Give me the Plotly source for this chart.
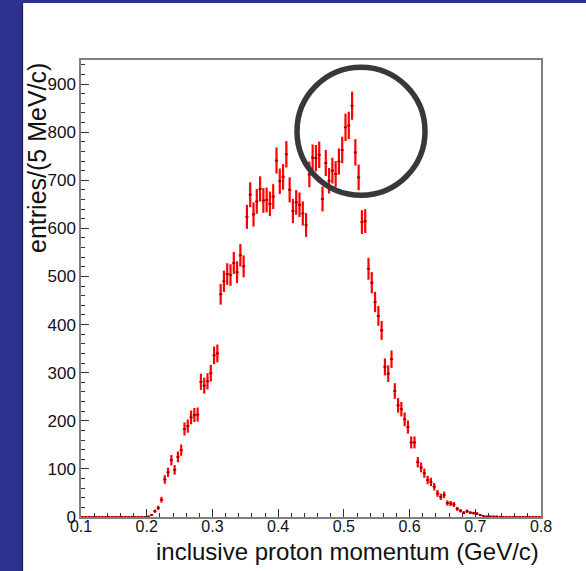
import numpy as np
import plotly.graph_objects as go

# --- data: 5 MeV/c bins from 0.1 to 0.8 GeV/c ---
bin_lo = 0.1
bin_width = 0.005
counts = [
    0, 0, 0, 0, 0, 0, 0, 0, 0, 0,
    0, 0, 0, 0, 0, 0, 0, 0, 0, 0,
    1, 4, 12, 19, 36, 78, 93, 118, 98, 125,
    139, 183, 189, 207, 212, 213, 281, 273, 282, 299,
    336, 340, 463, 490, 505, 503, 528, 509, 544, 521,
    624, 670, 629, 656, 682, 658, 659, 651, 666, 741,
    698, 707, 754, 680, 636, 654, 649, 631, 607, 712,
    747, 746, 753, 661, 736, 699, 720, 713, 739, 763,
    810, 814, 855, 758, 706, 613, 615, 516, 487, 447,
    418, 388, 312, 298, 328, 262, 232, 224, 203, 187,
    155, 155, 114, 103, 91, 77, 73, 63, 49, 42,
    46, 29, 28, 26, 17, 13, 9, 12, 9, 8,
    7, 4, 2, 1, 1, 1, 1, 0, 0, 0,
    0, 0, 0, 0, 0, 0, 0, 0, 0, 0,
]
centers = [bin_lo + bin_width * (i + 0.5) for i in range(len(counts))]
errors = np.sqrt(np.array(counts, dtype=float))

x_ticks = [0.1, 0.2, 0.3, 0.4, 0.5, 0.6, 0.7, 0.8]
x_tick_text = ["0.1", "0.2", "0.3", "0.4", "0.5", "0.6", "0.7", "0.8"]
y_ticks = [0, 100, 200, 300, 400, 500, 600, 700, 800, 900]

x_title = "inclusive proton momentum (GeV/c)"
y_title = "entries/(5 MeV/c)"

# highlight circle (data coords)
circle_cx, circle_cy = 0.5261, 802
circle_rx, circle_ry = 0.0974, 133

W, H = 586, 571
ML, MR, MT, MB = 81, 45, 60, 54
PW, PH = W - ML - MR, H - MT - MB

def px_x(p):
    return (p - ML) / PW

def px_y(p):
    return (H - MB - p) / PH

FONT = "Liberation Sans, Arial"

fig = go.Figure()
fig.add_trace(go.Scatter(
    x=centers, y=counts, mode="markers",
    marker=dict(size=2, color="#880000", symbol="square"),
    error_y=dict(type="data", array=errors, visible=True, color="#ff0000",
                 thickness=2.2, width=0),
    error_x=dict(type="constant", value=bin_width / 2, visible=True,
                 color="#ff0000", thickness=1.6, width=0),
    showlegend=False, hoverinfo="skip",
))

axis_common = dict(
    showgrid=False, zeroline=False, showline=True, mirror=True,
    linecolor="#808080", linewidth=1.5,
    ticks="inside", tickcolor="#333333", tickwidth=1.2,
)
fig.update_xaxes(
    range=[0.1, 0.8], tickvals=x_ticks, ticktext=x_tick_text, ticklen=8,
    tickfont=dict(family=FONT, size=16, color="#111111"),
    ticklabelstandoff=-6,
    minor=dict(ticks="inside", dtick=0.02, tick0=0.1, ticklen=4,
               tickcolor="#333333", tickwidth=1.2),
    **axis_common,
)
fig.update_yaxes(
    range=[0, 950], tickvals=y_ticks, ticklen=8,
    tickfont=dict(family=FONT, size=17, color="#111111"),
    minor=dict(ticks="inside", dtick=20, tick0=0, ticklen=4,
               tickcolor="#333333", tickwidth=1.2),
    **axis_common,
)

shapes = [
    # slide background strips
    dict(type="rect", xref="paper", yref="paper",
         x0=px_x(0), x1=px_x(22.5), y0=px_y(H), y1=px_y(0),
         fillcolor="#2f318f", line=dict(width=0), layer="below"),
    dict(type="rect", xref="paper", yref="paper",
         x0=px_x(0), x1=px_x(W), y0=px_y(3), y1=px_y(0),
         fillcolor="#2f318f", line=dict(width=0), layer="below"),
    dict(type="line", xref="paper", yref="paper",
         x0=px_x(22.5), x1=px_x(22.5), y0=px_y(H), y1=px_y(3),
         line=dict(color="#1c1d55", width=1.2)),
    # highlight circle
    dict(type="circle", xref="x", yref="y",
         x0=circle_cx - circle_rx, x1=circle_cx + circle_rx,
         y0=circle_cy - circle_ry, y1=circle_cy + circle_ry,
         line=dict(color="#38383b", width=5.5)),
]

annotations = [
    dict(text=x_title, xref="paper", yref="paper", x=1.0, y=px_y(551),
         xanchor="right", yanchor="middle", showarrow=False,
         font=dict(family=FONT, size=24, color="#111111")),
    dict(text=y_title, xref="paper", yref="paper", x=px_x(37), y=px_y(61),
         xanchor="center", yanchor="top", showarrow=False, textangle=-90,
         font=dict(family=FONT, size=25, color="#111111")),
]

fig.update_layout(
    width=W, height=H,
    margin=dict(l=ML, r=MR, t=MT, b=MB, pad=0),
    paper_bgcolor="white", plot_bgcolor="white",
    shapes=shapes, annotations=annotations,
)

fig.write_html("out.html", include_plotlyjs=True)
